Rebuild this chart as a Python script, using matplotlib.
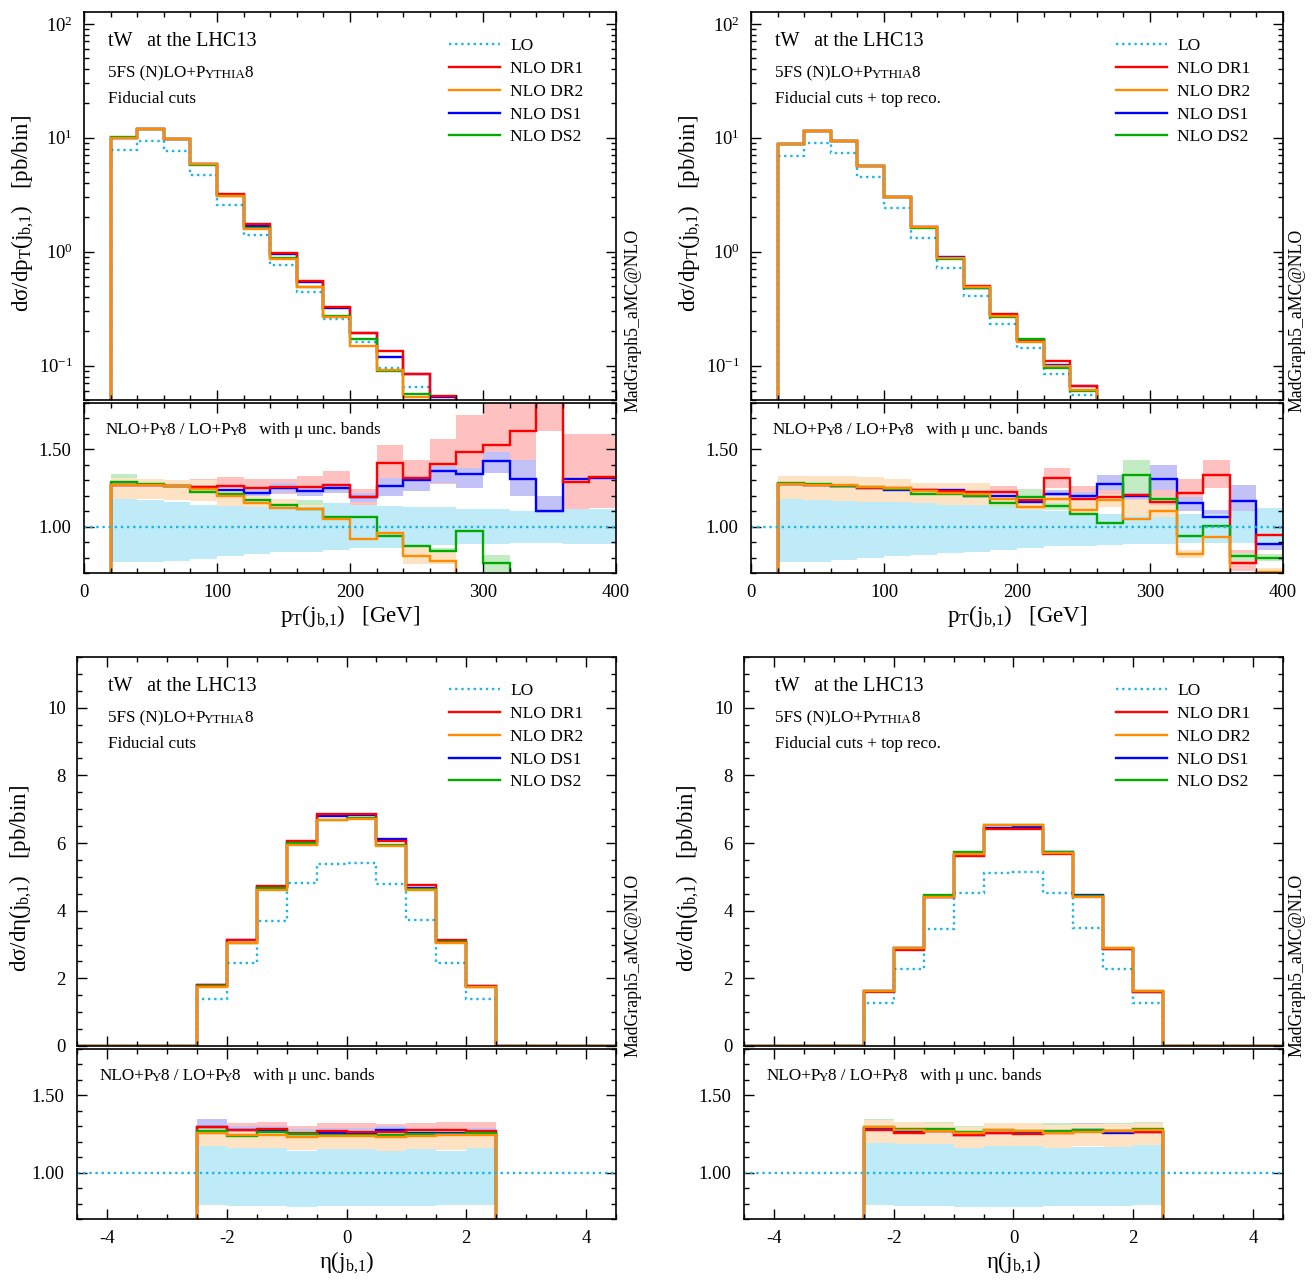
import numpy as np
import matplotlib
matplotlib.use('Agg')
import matplotlib.pyplot as plt
from matplotlib.ticker import MultipleLocator, LogLocator, NullFormatter, FormatStrFormatter

plt.rcParams['font.family'] = ['Liberation Serif', 'DejaVu Serif']
plt.rcParams['mathtext.fontset'] = 'custom'
plt.rcParams['mathtext.rm'] = 'Liberation Serif'
plt.rcParams['mathtext.it'] = 'Liberation Serif:italic'
plt.rcParams['mathtext.bf'] = 'Liberation Serif:bold'
plt.rcParams['axes.linewidth'] = 1.2
plt.rcParams['axes.unicode_minus'] = False

# ---------------- data: pT(j_b,1), bins of 20 GeV from 20 to 400 ----------------
pt_edges = np.arange(20, 401, 20)

# fiducial cuts (top left)
pt_fid_lo = [7.85, 9.4, 7.7, 4.7, 2.57, 1.39, 0.77, 0.44, 0.257, 0.163, 0.095, 0.065,
             0.039, 0.028, 0.020, 0.014, 0.010, 0.007, 0.005]
pt_fid_r_dr1 = [1.27, 1.267, 1.263, 1.257, 1.26, 1.252, 1.254, 1.257, 1.27, 1.19, 1.41, 1.313,
                1.404, 1.48, 1.53, 1.617, 2.0, 1.29, 1.32]
pt_fid_r_dr2 = [1.272, 1.267, 1.26, 1.241, 1.198, 1.15, 1.122, 1.117, 1.05, 0.92, 0.959, 0.813,
                0.778, 0, 0, 0, 0, 0, 0]
pt_fid_r_ds1 = [1.27, 1.267, 1.26, 1.257, 1.237, 1.215, 1.252, 1.23, 1.252, 1.19, 1.26, 1.30,
                1.36, 1.34, 1.426, 1.306, 1.104, 1.306, 1.317]
pt_fid_r_ds2 = [1.29, 1.274, 1.263, 1.224, 1.209, 1.172, 1.137, 1.117, 1.06, 1.06, 0.937, 0.872,
                0.843, 0.97, 0.763, 0, 0, 0, 0]
pt_fid_band_lo_up = [1.176, 1.170, 1.159, 1.143, 1.133, 1.128, 1.137, 1.126, 1.154, 1.137, 1.133,
                     1.126, 1.126, 1.115, 1.111, 1.104, 1.089, 1.111, 1.111]
pt_fid_band_lo_dn = [0.774, 0.770, 0.778, 0.791, 0.807, 0.824, 0.835, 0.839, 0.850, 0.861, 0.861,
                     0.872, 0.883, 0.889, 0.889, 0.893, 0.893, 0.889, 0.889]
pt_fid_band_dr1_up = [1.31, 1.30, 1.30, 1.307, 1.32, 1.307, 1.307, 1.33, 1.36, 1.245, 1.53, 1.43,
                      1.567, 1.72, 1.80, 1.85, 2.0, 1.60, 1.60]
pt_fid_band_dr1_dn = [1.23, 1.23, 1.22, 1.22, 1.22, 1.21, 1.21, 1.21, 1.22, 1.126, 1.267, 1.23,
                      1.274, 1.296, 1.35, 1.40, 1.62, 1.09, 1.12]
pt_fid_band_dr2_up = [1.317, 1.31, 1.30, 1.30, 1.25, 1.20, 1.18, 1.14, 1.08, 0.96, 0.98, 0.87,
                      0.85, 0, 0, 0, 0, 0, 0]
pt_fid_band_dr2_dn = [1.176, 1.18, 1.17, 1.165, 1.13, 1.08, 1.08, 1.09, 1.02, 0.90, 0.94, 0.76,
                      0.76, 0, 0, 0, 0, 0, 0]
pt_fid_band_ds1_up = [1.30, 1.29, 1.29, 1.285, 1.265, 1.245, 1.28, 1.26, 1.28, 1.22, 1.313, 1.33,
                      1.39, 1.38, 1.48, 1.43, 1.20, 1.31, 1.32]
pt_fid_band_ds1_dn = [1.24, 1.24, 1.23, 1.23, 1.21, 1.19, 1.22, 1.20, 1.22, 1.16, 1.198, 1.23,
                      1.28, 1.25, 1.345, 1.20, 1.035, 1.30, 1.31]
pt_fid_band_ds2_up = [1.34, 1.30, 1.28, 1.25, 1.24, 1.20, 1.18, 1.17, 1.10, 1.10, 0.96, 0.89,
                      0.86, 0.99, 0.817, 0, 0, 0, 0]
pt_fid_band_ds2_dn = [1.26, 1.25, 1.24, 1.20, 1.18, 1.14, 1.11, 1.09, 1.03, 0.904, 0.92, 0.85,
                      0.82, 0.95, 0.70, 0, 0, 0, 0]

# fiducial cuts + top reconstruction (top right)
pt_reco_lo = [6.95, 8.97, 7.38, 4.52, 2.43, 1.33, 0.72, 0.405, 0.233, 0.144, 0.0845, 0.0557,
              0.034, 0.022, 0.015, 0.010, 0.007, 0.005, 0.0035]
pt_reco_r_dr1 = [1.274, 1.267, 1.263, 1.252, 1.252, 1.237, 1.23, 1.224, 1.224, 1.17, 1.313, 1.18,
                 1.193, 1.202, 1.159, 1.22, 1.333, 0.763, 0.948]
pt_reco_r_dr2 = [1.274, 1.27, 1.267, 1.259, 1.252, 1.23, 1.22, 1.21, 1.176, 1.128, 1.176, 1.107,
                 1.172, 1.05, 1.10, 0.824, 0.93, 0, 0.709]
pt_reco_r_ds1 = [1.274, 1.267, 1.263, 1.252, 1.237, 1.24, 1.237, 1.198, 1.20, 1.16, 1.209, 1.198,
                 1.278, 1.20, 1.307, 1.154, 1.063, 1.165, 0.887]
pt_reco_r_ds2 = [1.28, 1.274, 1.263, 1.259, 1.245, 1.209, 1.209, 1.198, 1.154, 1.193, 1.133, 1.085,
                 1.024, 1.335, 1.176, 0.937, 1.007, 0.807, 0.80]
pt_reco_band_lo_up = [1.176, 1.17, 1.165, 1.16, 1.159, 1.15, 1.137, 1.141, 1.128, 1.11, 1.10, 1.09,
                      1.08, 1.07, 1.06, 1.08, 1.08, 1.10, 1.12]
pt_reco_band_lo_dn = [0.774, 0.77, 0.785, 0.796, 0.807, 0.817, 0.828, 0.839, 0.85, 0.861, 0.872,
                      0.872, 0.883, 0.889, 0.889, 0.893, 0.893, 0.893, 0.893]
pt_reco_band_dr1_up = [1.32, 1.31, 1.31, 1.30, 1.30, 1.28, 1.28, 1.28, 1.26, 1.22, 1.378, 1.26,
                       1.25, 1.285, 1.25, 1.307, 1.43, 0.85, 1.02]
pt_reco_band_dr1_dn = [1.23, 1.22, 1.22, 1.21, 1.21, 1.20, 1.19, 1.18, 1.16, 1.13, 1.252, 1.14,
                       1.13, 1.128, 1.13, 1.17, 1.252, 0.71, 0.87]
pt_reco_band_dr2_up = [1.33, 1.33, 1.325, 1.32, 1.31, 1.28, 1.28, 1.28, 1.21, 1.19, 1.20, 1.17,
                       1.21, 1.17, 1.14, 0.85, 0.96, 0, 0.73]
pt_reco_band_dr2_dn = [1.165, 1.165, 1.165, 1.16, 1.16, 1.14, 1.14, 1.14, 1.14, 1.07, 1.15, 1.04,
                       1.13, 1.02, 1.05, 0.80, 0.90, 0, 0.70]
pt_reco_band_ds1_up = [1.30, 1.29, 1.29, 1.28, 1.26, 1.265, 1.26, 1.225, 1.225, 1.185, 1.235, 1.225,
                       1.333, 1.22, 1.40, 1.19, 1.11, 1.267, 0.92]
pt_reco_band_ds1_dn = [1.25, 1.24, 1.24, 1.23, 1.21, 1.215, 1.21, 1.175, 1.175, 1.135, 1.185, 1.175,
                       1.24, 1.18, 1.237, 1.10, 1.04, 1.078, 0.85]
pt_reco_band_ds2_up = [1.31, 1.30, 1.29, 1.29, 1.275, 1.24, 1.24, 1.23, 1.185, 1.245, 1.15, 1.10,
                       1.04, 1.43, 1.19, 0.96, 1.02, 0.83, 0.82]
pt_reco_band_ds2_dn = [1.25, 1.245, 1.235, 1.23, 1.215, 1.18, 1.18, 1.17, 1.125, 1.10, 1.11, 1.07,
                       1.01, 1.22, 1.16, 0.92, 0.99, 0.78, 0.78]

# ---------------- data: eta(j_b,1), bins of 0.5 from -2.5 to 2.5 ----------------
eta_edges = np.arange(-2.5, 2.51, 0.5)

eta_fid_lo = [1.39, 2.46, 3.70, 4.82, 5.39, 5.42, 4.80, 3.72, 2.46, 1.40]
eta_fid_r_dr1 = [1.298, 1.274, 1.28, 1.259, 1.27, 1.265, 1.265, 1.276, 1.276, 1.27]
eta_fid_r_dr2 = [1.259, 1.243, 1.243, 1.23, 1.237, 1.237, 1.23, 1.237, 1.241, 1.246]
eta_fid_r_ds1 = [1.298, 1.276, 1.27, 1.252, 1.259, 1.259, 1.274, 1.259, 1.254, 1.259]
eta_fid_r_ds2 = [1.27, 1.237, 1.265, 1.248, 1.241, 1.241, 1.241, 1.248, 1.25, 1.254]
eta_fid_band_lo_up = [1.172, 1.159, 1.159, 1.143, 1.154, 1.154, 1.139, 1.15, 1.143, 1.157]
eta_fid_band_lo_dn = [0.791, 0.787, 0.787, 0.78, 0.785, 0.785, 0.785, 0.785, 0.791, 0.791]
eta_fid_band_dr1_up = [1.35, 1.32, 1.328, 1.30, 1.32, 1.32, 1.313, 1.32, 1.328, 1.328]
eta_fid_band_dr1_dn = [1.24, 1.23, 1.235, 1.22, 1.23, 1.23, 1.225, 1.23, 1.235, 1.235]
eta_fid_band_dr2_up = [1.285, 1.27, 1.27, 1.26, 1.265, 1.265, 1.26, 1.265, 1.27, 1.275]
eta_fid_band_dr2_dn = [1.17, 1.157, 1.161, 1.146, 1.154, 1.154, 1.139, 1.15, 1.146, 1.159]
eta_fid_band_ds1_up = [1.345, 1.30, 1.30, 1.28, 1.29, 1.29, 1.30, 1.29, 1.285, 1.29]
eta_fid_band_ds1_dn = [1.25, 1.24, 1.235, 1.22, 1.225, 1.225, 1.24, 1.225, 1.22, 1.225]
eta_fid_band_ds2_up = [1.29, 1.26, 1.285, 1.27, 1.265, 1.265, 1.265, 1.27, 1.272, 1.276]
eta_fid_band_ds2_dn = [1.21, 1.18, 1.205, 1.19, 1.185, 1.185, 1.185, 1.19, 1.19, 1.195]

eta_reco_lo = [1.26, 2.27, 3.47, 4.53, 5.12, 5.14, 4.53, 3.49, 2.27, 1.27]
eta_reco_r_dr1 = [1.276, 1.254, 1.267, 1.241, 1.254, 1.25, 1.254, 1.267, 1.267, 1.263]
eta_reco_r_dr2 = [1.298, 1.274, 1.27, 1.254, 1.274, 1.27, 1.259, 1.263, 1.27, 1.276]
eta_reco_r_ds1 = [1.291, 1.27, 1.272, 1.246, 1.259, 1.259, 1.263, 1.276, 1.259, 1.263]
eta_reco_r_ds2 = [1.298, 1.28, 1.283, 1.265, 1.274, 1.27, 1.267, 1.274, 1.27, 1.28]
eta_reco_band_lo_up = [1.193, 1.183, 1.183, 1.161, 1.172, 1.172, 1.157, 1.167, 1.163, 1.178]
eta_reco_band_lo_dn = [0.791, 0.787, 0.787, 0.78, 0.78, 0.78, 0.787, 0.787, 0.787, 0.791]
eta_reco_band_dr1_up = [1.31, 1.29, 1.30, 1.275, 1.29, 1.285, 1.29, 1.30, 1.30, 1.30]
eta_reco_band_dr1_dn = [1.19, 1.178, 1.19, 1.165, 1.178, 1.174, 1.178, 1.19, 1.19, 1.186]
eta_reco_band_dr2_up = [1.341, 1.328, 1.319, 1.297, 1.319, 1.319, 1.308, 1.313, 1.313, 1.324]
eta_reco_band_dr2_dn = [1.193, 1.176, 1.183, 1.159, 1.17, 1.17, 1.152, 1.17, 1.163, 1.176]
eta_reco_band_ds1_up = [1.32, 1.30, 1.30, 1.28, 1.29, 1.29, 1.30, 1.324, 1.29, 1.30]
eta_reco_band_ds1_dn = [1.24, 1.22, 1.225, 1.20, 1.21, 1.21, 1.215, 1.23, 1.21, 1.215]
eta_reco_band_ds2_up = [1.345, 1.32, 1.33, 1.30, 1.31, 1.31, 1.32, 1.31, 1.32, 1.326]
eta_reco_band_ds2_dn = [1.21, 1.19, 1.20, 1.18, 1.19, 1.19, 1.185, 1.19, 1.19, 1.20]

labels = ['LO', 'NLO DR1', 'NLO DR2', 'NLO DS1', 'NLO DS2']

# ---------------- styles ----------------
c_lo = '#19b6e6'
c_line = {'dr1': '#ff0000', 'dr2': '#ff8c00', 'ds1': '#0000ff', 'ds2': '#00aa00'}
c_band = {'lo': '#bfeaf7', 'dr1': '#ffc0c0', 'dr2': '#fde2c4', 'ds1': '#c2c2f8', 'ds2': '#c4ecc4'}
lo_style = dict(color=c_lo, lw=1.7, linestyle=(0, (1.0, 1.6)))
nlo_lw = 1.7

W, H = 1313, 1280


def rect(x0, x1, y0, y1):
    return [x0 / W, 1 - y1 / H, (x1 - x0) / W, (y1 - y0) / H]


def smallcaps(ax, x, y, parts, size):
    # chain text pieces, small ones at reduced size, each one placed after the previous
    t = ax.text(x, y, parts[0][0], transform=ax.transAxes, fontsize=size, va='center')
    prev = t
    for s, small in parts[1:]:
        prev = ax.annotate(s, xy=(1, 0), xycoords=prev, xytext=(-0.8, 0), textcoords='offset points',
                           fontsize=size * (0.77 if small else 1.0), va='bottom', ha='left')
    return t


def pad_values(vals, n_left, n_right):
    return np.concatenate([np.zeros(n_left), np.asarray(vals, float), np.zeros(n_right)])


def style_axis(ax):
    ax.tick_params(which='both', direction='in', top=True, right=True, labelsize=13.5, width=1.0)
    ax.tick_params(which='major', length=7, pad=8)
    ax.tick_params(which='minor', length=3.5)


def draw_panel(main_rect, ratio_rect, edges, lo, ratios, bands, logy, ylim, full_edges, npad,
               subtitle, ylabel, xlabel, xmajor, xminor, xlim):
    ax = fig.add_axes(main_rect)
    rx = fig.add_axes(ratio_rect, sharex=ax)
    nl, nr = npad
    lo_p = pad_values(lo, nl, nr)

    # main panel
    h_lo = ax.stairs(np.where(lo_p > 0, lo_p, 1e-9), full_edges, baseline=None, **lo_style)
    handles = {}
    for key in ['ds1', 'dr1', 'ds2', 'dr2']:
        nlo = lo_p * pad_values(ratios[key], nl, nr)
        handles[key] = ax.stairs(np.where(nlo > 0, nlo, 1e-9), full_edges, baseline=None,
                                 color=c_line[key], lw=nlo_lw)
    if logy:
        ax.set_yscale('log')
        ax.yaxis.set_major_locator(LogLocator(base=10, numticks=10))
        ax.yaxis.set_minor_locator(LogLocator(base=10, subs=np.arange(2, 10), numticks=10))
        ax.yaxis.set_minor_formatter(NullFormatter())
    else:
        ax.yaxis.set_major_locator(MultipleLocator(2))
        ax.yaxis.set_minor_locator(MultipleLocator(0.5))
    ax.set_ylim(*ylim)
    ax.set_xlim(*xlim)
    ax.xaxis.set_major_locator(MultipleLocator(xmajor))
    ax.xaxis.set_minor_locator(MultipleLocator(xminor))
    style_axis(ax)
    ax.tick_params(labelbottom=False)

    x_txt = 0.046 if logy else 0.0575
    ax.text(x_txt, 0.925, 'tW   at the LHC13', transform=ax.transAxes, fontsize=14.5, va='center')
    smallcaps(ax, x_txt, 0.843, [('5FS (N)LO+P', False), ('YTHIA', True), ('8', False)], 12.3)
    ax.text(x_txt, 0.776, subtitle, transform=ax.transAxes, fontsize=12.3, va='center')
    ax.legend([h_lo, handles['dr1'], handles['dr2'], handles['ds1'], handles['ds2']], labels,
              loc='upper right', bbox_to_anchor=(0.965, 0.968), frameon=False, fontsize=12.5,
              handlelength=2.9, handletextpad=0.6, labelspacing=0.38, borderpad=0.3)
    ax.set_ylabel(ylabel, fontsize=16.5, va='center')
    ax.yaxis.set_label_coords(-0.115 if logy else -0.105, 0.48 if logy else 0.43)

    # ratio panel
    for key in ['dr1', 'ds1', 'ds2', 'dr2']:
        rx.stairs(bands[key][1], edges, baseline=bands[key][0], fill=True,
                  color=c_band[key], lw=0)
    rx.stairs(bands['lo'][1], edges, baseline=bands['lo'][0], fill=True, color=c_band['lo'], lw=0)
    rx.axhline(1.0, **lo_style)
    for key in ['ds1', 'dr1', 'ds2', 'dr2']:
        rx.stairs(pad_values(ratios[key], nl, nr), full_edges, baseline=None,
                  color=c_line[key], lw=nlo_lw)
    rx.set_ylim(0.7, 1.8)
    rx.yaxis.set_major_locator(MultipleLocator(0.5))
    rx.yaxis.set_minor_locator(MultipleLocator(0.1))
    rx.yaxis.set_major_formatter(FormatStrFormatter('%.2f'))
    style_axis(rx)
    rx.tick_params(axis='y', pad=9)
    smallcaps(rx, 0.041, 0.84,
              [('NLO+P', False), ('Y', True), ('8 / LO+P', False), ('Y', True),
               ('8   with \u03bc unc. bands', False)], 12.3)
    rx.set_xlabel(xlabel, fontsize=16.5, va='center')
    rx.xaxis.set_label_coords(0.5, -0.26)
    return ax, rx


fig = plt.figure(figsize=(W / 100, H / 100), dpi=100)

pt_full = np.arange(0, 401, 20)
eta_full = np.arange(-4.5, 4.51, 0.5)

ylab_pt = 'd\u03c3/dp$_{\\rm T}$(j$_{\\rm b{,}1}$)   [pb/bin]'
ylab_eta = 'd\u03c3/d\u03b7(j$_{\\rm b{,}1}$)   [pb/bin]'
xlab_pt = 'p$_{\\rm T}$(j$_{\\rm b{,}1}$)   [GeV]'
xlab_eta = '\u03b7(j$_{\\rm b{,}1}$)'

draw_panel(rect(84, 616, 12, 400), rect(84, 616, 403, 573), pt_edges, pt_fid_lo,
           {'dr1': pt_fid_r_dr1, 'dr2': pt_fid_r_dr2, 'ds1': pt_fid_r_ds1, 'ds2': pt_fid_r_ds2},
           {'lo': (pt_fid_band_lo_dn, pt_fid_band_lo_up),
            'dr1': (pt_fid_band_dr1_dn, pt_fid_band_dr1_up),
            'dr2': (pt_fid_band_dr2_dn, pt_fid_band_dr2_up),
            'ds1': (pt_fid_band_ds1_dn, pt_fid_band_ds1_up),
            'ds2': (pt_fid_band_ds2_dn, pt_fid_band_ds2_up)},
           True, (0.05, 127), pt_full, (1, 0), 'Fiducial cuts', ylab_pt, xlab_pt, 100, 20, (0, 400))

draw_panel(rect(751, 1283, 12, 400), rect(751, 1283, 403, 573), pt_edges, pt_reco_lo,
           {'dr1': pt_reco_r_dr1, 'dr2': pt_reco_r_dr2, 'ds1': pt_reco_r_ds1, 'ds2': pt_reco_r_ds2},
           {'lo': (pt_reco_band_lo_dn, pt_reco_band_lo_up),
            'dr1': (pt_reco_band_dr1_dn, pt_reco_band_dr1_up),
            'dr2': (pt_reco_band_dr2_dn, pt_reco_band_dr2_up),
            'ds1': (pt_reco_band_ds1_dn, pt_reco_band_ds1_up),
            'ds2': (pt_reco_band_ds2_dn, pt_reco_band_ds2_up)},
           True, (0.05, 127), pt_full, (1, 0), 'Fiducial cuts + top reco.', ylab_pt, xlab_pt,
           100, 20, (0, 400))

draw_panel(rect(77, 616, 657, 1046), rect(77, 616, 1049, 1219), eta_edges, eta_fid_lo,
           {'dr1': eta_fid_r_dr1, 'dr2': eta_fid_r_dr2, 'ds1': eta_fid_r_ds1, 'ds2': eta_fid_r_ds2},
           {'lo': (eta_fid_band_lo_dn, eta_fid_band_lo_up),
            'dr1': (eta_fid_band_dr1_dn, eta_fid_band_dr1_up),
            'dr2': (eta_fid_band_dr2_dn, eta_fid_band_dr2_up),
            'ds1': (eta_fid_band_ds1_dn, eta_fid_band_ds1_up),
            'ds2': (eta_fid_band_ds2_dn, eta_fid_band_ds2_up)},
           False, (0, 11.5), eta_full, (4, 4), 'Fiducial cuts', ylab_eta, xlab_eta, 2, 0.5,
           (-4.5, 4.5))

draw_panel(rect(744, 1283, 657, 1046), rect(744, 1283, 1049, 1219), eta_edges, eta_reco_lo,
           {'dr1': eta_reco_r_dr1, 'dr2': eta_reco_r_dr2, 'ds1': eta_reco_r_ds1, 'ds2': eta_reco_r_ds2},
           {'lo': (eta_reco_band_lo_dn, eta_reco_band_lo_up),
            'dr1': (eta_reco_band_dr1_dn, eta_reco_band_dr1_up),
            'dr2': (eta_reco_band_dr2_dn, eta_reco_band_dr2_up),
            'ds1': (eta_reco_band_ds1_dn, eta_reco_band_ds1_up),
            'ds2': (eta_reco_band_ds2_dn, eta_reco_band_ds2_up)},
           False, (0, 11.5), eta_full, (4, 4), 'Fiducial cuts + top reco.', ylab_eta, xlab_eta,
           2, 0.5, (-4.5, 4.5))

for xf in [633 / W, 1297 / W]:
    for yf in [1 - 320 / H, 1 - 965 / H]:
        fig.text(xf, yf, 'MadGraph5_aMC@NLO', rotation=90, ha='center', va='center', fontsize=12.8)

fig.savefig('out.png', dpi=100)
